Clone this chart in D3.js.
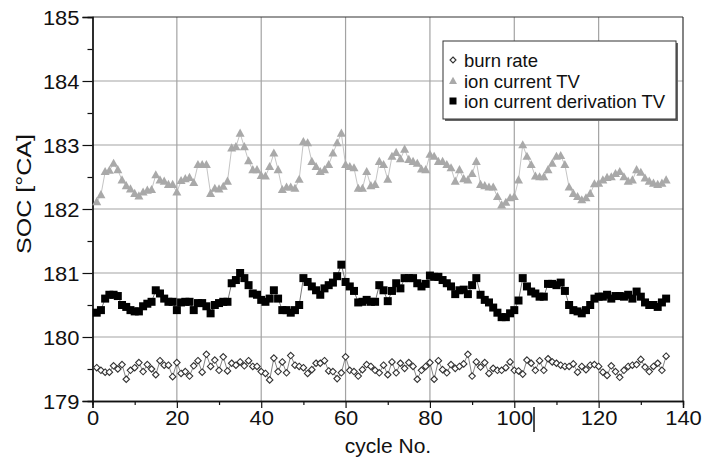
<!DOCTYPE html>
<html><head><meta charset="utf-8">
<script src="https://cdn.jsdelivr.net/npm/d3@7"></script>
<style>
html,body{margin:0;padding:0;background:#fff;}
text{font-family:"Liberation Sans",Arial,sans-serif;fill:#111;}
</style></head>
<body><svg id="c" width="704" height="461"></svg>
<script>
const cycles = d3.range(1, 137);
const xTicks = [0, 20, 40, 60, 80, 100, 120, 140];
const yTicks = [179, 180, 181, 182, 183, 184, 185];
const seriesNames = ["burn rate", "ion current TV", "ion current derivation TV"];

const burnRate = [179.52,179.48,179.45,179.45,179.55,179.50,179.57,179.34,179.48,179.52,
179.60,179.46,179.57,179.50,179.41,179.63,179.56,179.56,179.38,179.60,
179.43,179.46,179.39,179.55,179.63,179.45,179.73,179.54,179.64,179.48,
179.69,179.47,179.59,179.56,179.61,179.55,179.63,179.54,179.54,179.46,
179.43,179.33,179.67,179.46,179.61,179.44,179.71,179.56,179.54,179.52,
179.43,179.49,179.59,179.59,179.63,179.47,179.46,179.35,179.44,179.69,
179.48,179.46,179.39,179.49,179.57,179.54,179.48,179.44,179.56,179.41,
179.61,179.44,179.59,179.51,179.60,179.54,179.34,179.48,179.54,179.60,
179.34,179.63,179.49,179.44,179.57,179.51,179.54,179.58,179.73,179.39,
179.61,179.53,179.60,179.43,179.51,179.48,179.48,179.52,179.61,179.48,
179.47,179.42,179.64,179.59,179.48,179.63,179.48,179.66,179.61,179.59,
179.56,179.54,179.54,179.58,179.45,179.54,179.49,179.56,179.57,179.54,
179.45,179.40,179.55,179.46,179.37,179.48,179.54,179.56,179.57,179.65,
179.53,179.46,179.54,179.59,179.48,179.70];

const ionTV = [182.11,182.22,182.58,182.60,182.71,182.61,182.45,182.36,182.31,182.24,
182.20,182.26,182.29,182.30,182.53,182.45,182.43,182.38,182.38,182.26,
182.44,182.47,182.49,182.41,182.69,182.69,182.69,182.24,182.32,182.31,
182.35,182.43,182.95,182.97,183.18,182.97,182.75,182.61,182.61,182.52,
182.51,182.66,182.87,182.61,182.30,182.34,182.34,182.32,182.46,183.05,
183.03,182.74,182.66,182.58,182.61,182.69,182.87,183.03,183.18,182.69,
182.66,182.64,182.32,182.32,182.58,182.36,182.38,182.74,182.69,182.46,
182.82,182.88,182.78,182.93,182.77,182.74,182.71,182.62,182.61,182.85,
182.82,182.74,182.74,182.69,182.64,182.43,182.61,182.47,182.45,182.55,
182.74,182.38,182.36,182.34,182.34,182.19,182.06,182.10,182.17,182.19,
182.45,183.00,182.82,182.69,182.51,182.50,182.50,182.61,182.71,182.82,
182.83,182.69,182.34,182.24,182.19,182.14,182.17,182.24,182.39,182.40,
182.45,182.49,182.50,182.55,182.58,182.50,182.43,182.45,182.61,182.57,
182.48,182.43,182.40,182.38,182.40,182.45];

const ionDerivTV = [180.38,180.42,180.60,180.66,180.66,180.64,180.50,180.47,180.42,180.40,
180.40,180.48,180.52,180.55,180.73,180.68,180.60,180.55,180.55,180.42,
180.54,180.55,180.55,180.42,180.53,180.53,180.48,180.37,180.50,180.53,
180.55,180.55,180.84,180.89,181.00,180.92,180.81,180.68,180.66,180.58,
180.55,180.60,180.73,180.60,180.42,180.42,180.38,180.42,180.50,180.92,
180.86,180.79,180.73,180.66,180.76,180.81,180.85,180.95,181.13,180.86,
180.79,180.72,180.54,180.55,180.58,180.55,180.55,180.81,180.73,180.56,
180.72,180.84,180.76,180.92,180.92,180.92,180.84,180.79,180.83,180.96,
180.94,180.94,180.89,180.84,180.79,180.67,180.73,180.74,180.67,180.81,
180.92,180.66,180.58,180.54,180.46,180.38,180.31,180.31,180.37,180.42,
180.57,180.92,180.79,180.71,180.68,180.63,180.63,180.83,180.83,180.81,
180.85,180.72,180.50,180.42,180.40,180.37,180.42,180.50,180.60,180.63,
180.63,180.66,180.60,180.64,180.64,180.63,180.66,180.60,180.71,180.63,
180.54,180.50,180.50,180.47,180.54,180.60];

const svg = d3.select("#c");
const x = d3.scaleLinear().domain([0, 140]).range([92.5, 683]);
const y = d3.scaleLinear().domain([179, 185]).range([401, 17]);

// grid
const grid = svg.append("g").attr("stroke", "#a3a3a3").attr("stroke-width", 1.2);
xTicks.slice(1, -1).forEach(t => grid.append("line")
  .attr("x1", x(t)).attr("x2", x(t)).attr("y1", y(185)).attr("y2", y(179)));
yTicks.slice(1, -1).forEach(t => grid.append("line")
  .attr("x1", x(0)).attr("x2", x(140)).attr("y1", y(t)).attr("y2", y(t)));

// frame top/right
svg.append("line").attr("x1", x(0)).attr("x2", x(140)).attr("y1", y(185)).attr("y2", y(185))
  .attr("stroke", "#333").attr("stroke-width", 1.2);
svg.append("line").attr("x1", x(140)).attr("x2", x(140)).attr("y1", y(185)).attr("y2", y(179))
  .attr("stroke", "#333").attr("stroke-width", 1.2);

// axes
const xAxisMinor = d3.axisBottom(x).tickValues(d3.range(10, 140, 20)).tickSize(4).tickFormat("");
const xAxis = d3.axisBottom(x).tickValues(xTicks).tickSize(7).tickFormat(d3.format("d"));
const gx2 = svg.append("g").attr("transform", `translate(0,${y(179)})`).call(xAxisMinor);
const gx = svg.append("g").attr("transform", `translate(0,${y(179)})`).call(xAxis);
const yAxisMinor = d3.axisLeft(y).tickValues(d3.range(179.5, 185, 1)).tickSize(5).tickFormat("");
const yAxis = d3.axisLeft(y).tickValues(yTicks).tickSize(10).tickFormat(d3.format("d"));
const gy2 = svg.append("g").attr("transform", `translate(${x(0)},0)`).call(yAxisMinor);
const gy = svg.append("g").attr("transform", `translate(${x(0)},0)`).call(yAxis);
[gx, gx2, gy, gy2].forEach(g => {
  g.selectAll(".domain").attr("stroke", "#111").attr("stroke-width", 1.3);
  g.selectAll(".tick line").attr("stroke", "#111").attr("stroke-width", 1.2);
});
gx.selectAll(".tick text").attr("font-size", 20).attr("y", 10).attr("dy", "0.71em")
  .attr("textLength", d => String(d).length * 12.2).attr("lengthAdjust", "spacingAndGlyphs")
  .style("font-family", '"Liberation Sans", Arial, sans-serif').attr("fill", "#111");
gy.selectAll(".tick text").attr("font-size", 20).attr("x", -13).attr("dy", "0.36em")
  .attr("textLength", d => String(d).length * 12.2).attr("lengthAdjust", "spacingAndGlyphs")
  .style("font-family", '"Liberation Sans", Arial, sans-serif').attr("fill", "#111");

// stray cursor bar after "100"
svg.append("line").attr("x1", 534).attr("x2", 534).attr("y1", 407).attr("y2", 432)
  .attr("stroke", "#111").attr("stroke-width", 1.5);

// axis titles
svg.append("text").attr("x", 388).attr("y", 453).attr("text-anchor", "middle")
  .attr("font-size", 21).text("cycle No.");
svg.append("text").attr("transform", "translate(31,194) rotate(-90)").attr("text-anchor", "middle")
  .attr("font-size", 21).attr("textLength", 120).attr("lengthAdjust", "spacingAndGlyphs").text("SOC [°CA]");

// series lines
const line = d3.line().x((d, i) => x(cycles[i])).y(d => y(d));
svg.append("path").datum(ionTV).attr("d", line).attr("fill", "none").attr("stroke", "#c4c4c4").attr("stroke-width", 1);
svg.append("path").datum(ionDerivTV).attr("d", line).attr("fill", "none").attr("stroke", "#777").attr("stroke-width", 1);
svg.append("path").datum(burnRate).attr("d", line).attr("fill", "none").attr("stroke", "#666").attr("stroke-width", 0.8);

// marker shapes
function tri(cx, cy, s) { const h = s * 0.9; return `M${cx},${cy - h * 0.6}L${cx + s / 2},${cy + h * 0.4}L${cx - s / 2},${cy + h * 0.4}Z`; }
function dia(cx, cy, s) { return `M${cx},${cy - s / 2}L${cx + s / 2},${cy}L${cx},${cy + s / 2}L${cx - s / 2},${cy}Z`; }

svg.append("g").selectAll("path").data(ionTV).join("path")
  .attr("d", (d, i) => tri(x(cycles[i]), y(d), 9)).attr("fill", "#a9a9a9");
svg.append("g").selectAll("rect").data(ionDerivTV).join("rect")
  .attr("x", (d, i) => x(cycles[i]) - 4).attr("y", d => y(d) - 4)
  .attr("width", 8).attr("height", 8).attr("fill", "#000");
svg.append("g").selectAll("path").data(burnRate).join("path")
  .attr("d", (d, i) => dia(x(cycles[i]), y(d), 6.5)).attr("fill", "#fff")
  .attr("stroke", "#333").attr("stroke-width", 1.1);

// legend
const lg = svg.append("g");
lg.append("rect").attr("x", 445).attr("y", 43).attr("width", 233).attr("height", 78).attr("fill", "#666");
lg.append("rect").attr("x", 443).attr("y", 41).attr("width", 233).attr("height", 78)
  .attr("fill", "#fff").attr("stroke", "#333").attr("stroke-width", 1);
const ly = [60, 81, 101];
lg.append("path").attr("d", dia(453, ly[0], 6)).attr("fill", "#fff").attr("stroke", "#333").attr("stroke-width", 1.1);
lg.append("path").attr("d", tri(453, ly[1], 8)).attr("fill", "#a9a9a9");
lg.append("rect").attr("x", 449.5).attr("y", ly[2] - 3.5).attr("width", 7).attr("height", 7).attr("fill", "#000");
seriesNames.forEach((n, i) => lg.append("text").attr("x", 464).attr("y", ly[i]).attr("dy", "0.36em")
  .attr("font-size", 18.5).text(n));
</script></body></html>
